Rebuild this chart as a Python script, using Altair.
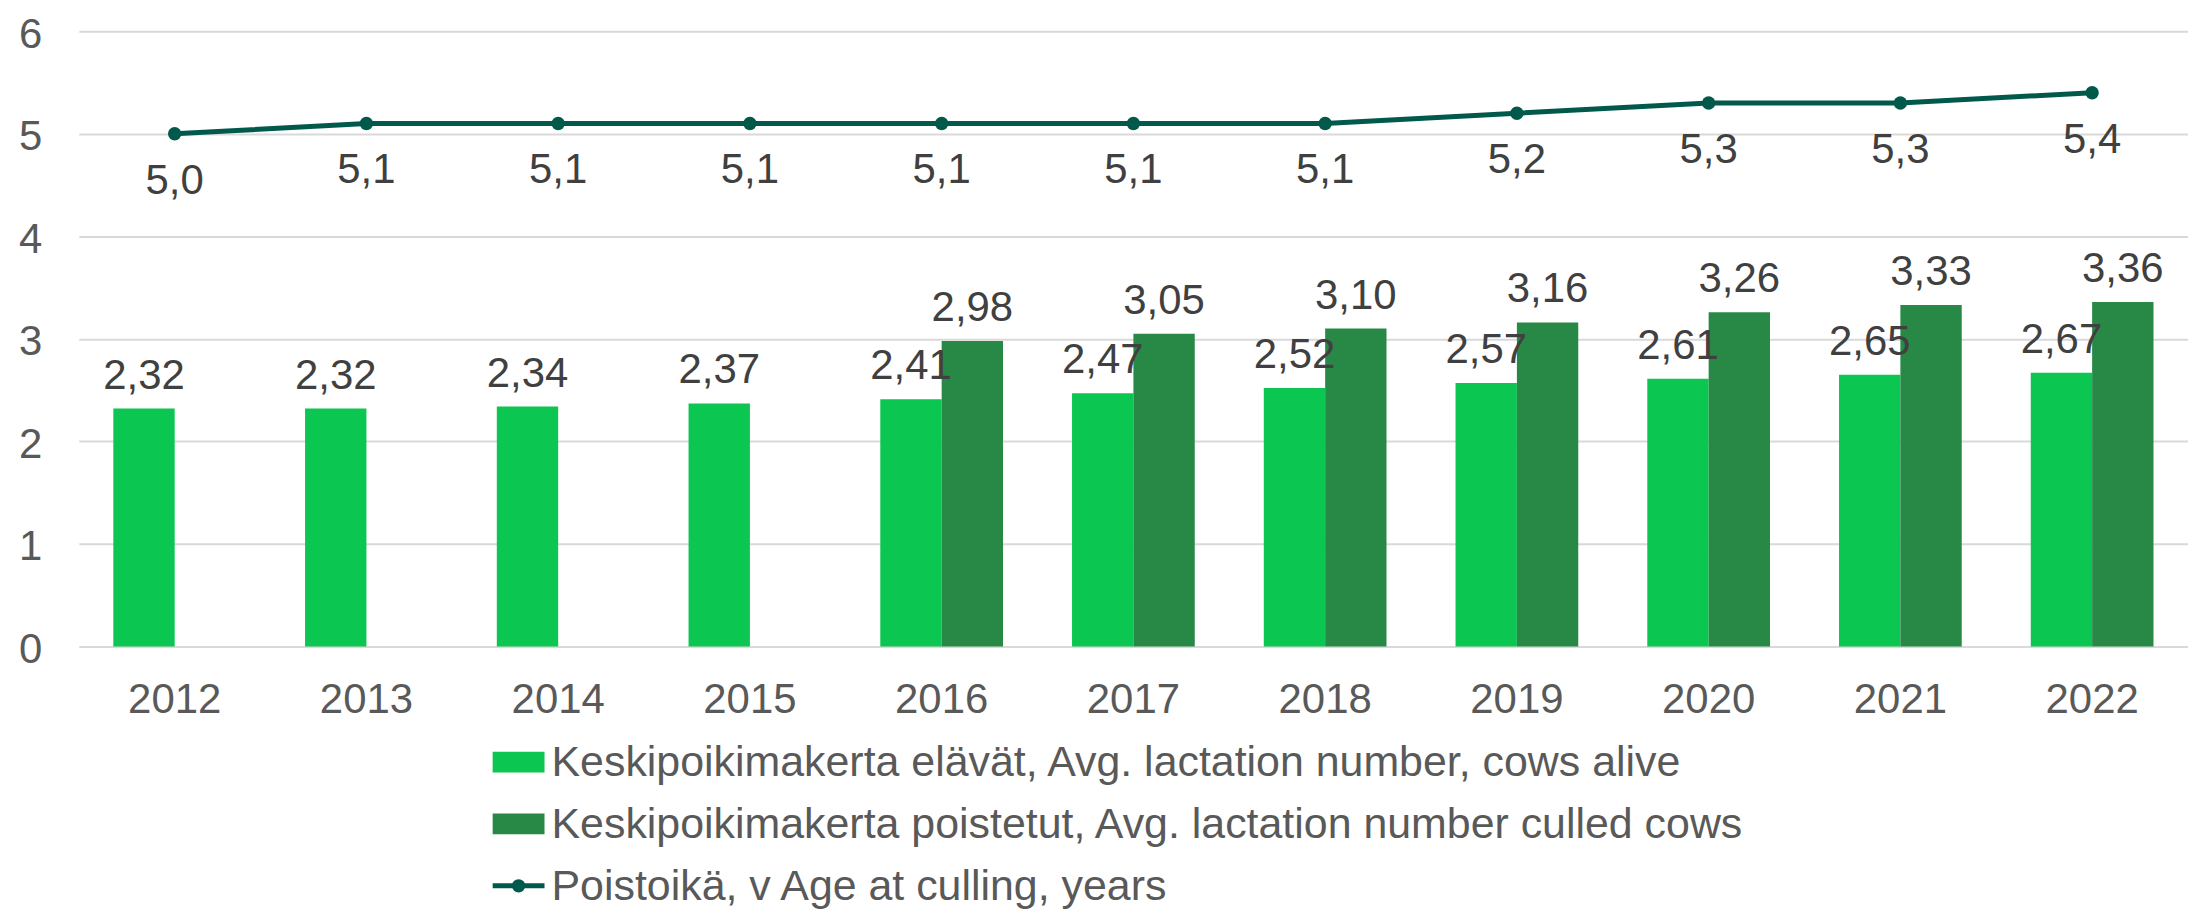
import altair as alt
import pandas as pd

# ---- data ----
years = ["2012", "2013", "2014", "2015", "2016", "2017", "2018", "2019", "2020", "2021", "2022"]
alive = [2.32, 2.32, 2.34, 2.37, 2.41, 2.47, 2.52, 2.57, 2.61, 2.65, 2.67]
culled = [None, None, None, None, 2.98, 3.05, 3.10, 3.16, 3.26, 3.33, 3.36]
age = [5.0, 5.1, 5.1, 5.1, 5.1, 5.1, 5.1, 5.2, 5.3, 5.3, 5.4]
series_names = [
    "Keskipoikimakerta elävät, Avg. lactation number, cows alive",
    "Keskipoikimakerta poistetut, Avg. lactation number culled cows",
    "Poistoikä, v Age at culling, years",
]
y_ticks = [0, 1, 2, 3, 4, 5, 6]

# ---- styles ----
bar_colors = ["#0BC651", "#288946"]
line_color = "#00594B"
axis_text = "#595959"
label_text = "#404040"
grid_color = "#D9D9D9"
FS = 42
LFS = 43

bars_df = pd.DataFrame({
    "year": years * 2,
    "series": [series_names[0]] * len(years) + [series_names[1]] * len(years),
    "value": alive + culled,
}).dropna()
line_df = pd.DataFrame({"year": years, "value": age})

x_enc = alt.X(
    "year:N", sort=years,
    scale=alt.Scale(paddingInner=0.36, paddingOuter=0.18),
    axis=alt.Axis(title=None, labelFontSize=FS, labelColor=axis_text, labelPadding=53,
                  labelBaseline="middle", domain=False, ticks=False, grid=False, labelAngle=0),
)
y_enc = alt.Y(
    "value:Q", scale=alt.Scale(domain=[0, 6], nice=False, zero=True),
    axis=alt.Axis(title=None, values=y_ticks, labelFontSize=FS, labelColor=axis_text,
                  labelPadding=37, labelBaseline="alphabetic", labelOffset=16,
                  ticks=False, tickSize=0, domain=False, grid=True,
                  gridColor=grid_color, gridWidth=2),
)
xoff = alt.XOffset("series:N", sort=series_names[:2],
                   scale=alt.Scale(domain=series_names[:2], paddingInner=0, paddingOuter=0))
color_enc = alt.Color("series:N", scale=alt.Scale(domain=series_names[:2], range=bar_colors), legend=None)

base_bars = alt.Chart(bars_df)
bars = base_bars.mark_bar(opacity=1).encode(x=x_enc, xOffset=xoff, y=y_enc, color=color_enc)
bar_labels = base_bars.mark_text(dy=-20, baseline="alphabetic", fontSize=FS, color=label_text).transform_calculate(
    label="replace(format(datum.value, '.2f'), '.', ',')"
).encode(x=x_enc, xOffset=xoff, y=y_enc, text="label:N")

base_line = alt.Chart(line_df)
line = base_line.mark_line(color=line_color, strokeWidth=5).encode(x=x_enc, y=y_enc)
points = base_line.mark_point(filled=True, size=180, opacity=1, color=line_color).encode(x=x_enc, y=y_enc)
line_labels = base_line.mark_text(dy=60, baseline="alphabetic", fontSize=FS, color=label_text).transform_calculate(
    label="replace(format(datum.value, '.1f'), '.', ',')"
).encode(x=x_enc, y=y_enc, text="label:N")

# ---- legend (drawn below the plot) ----
row_y = [733, 795, 857]
sym_x = 441
legend_layers = []
for i, name in enumerate(series_names):
    ldf = pd.DataFrame({"series": [name]})
    if i < 2:
        legend_layers.append(
            alt.Chart(ldf).mark_point(shape="M-1,-0.4H1V0.4H-1Z", filled=True, size=2704, opacity=1,
                                      strokeWidth=0, color=bar_colors[i])
            .encode(x=alt.value(sym_x), y=alt.value(row_y[i]))
        )
    else:
        legend_layers.append(
            alt.Chart(ldf).mark_rule(color=line_color, strokeWidth=5)
            .encode(x=alt.value(sym_x - 26), x2=alt.value(sym_x + 26), y=alt.value(row_y[i]))
        )
        legend_layers.append(
            alt.Chart(ldf).mark_point(filled=True, size=180, opacity=1, color=line_color)
            .encode(x=alt.value(sym_x), y=alt.value(row_y[i]))
        )
    legend_layers.append(
        alt.Chart(ldf).mark_text(align="left", baseline="middle", fontSize=LFS, color=axis_text)
        .encode(x=alt.value(474), y=alt.value(row_y[i] + 1), text="series:N")
    )

chart = alt.layer(bars, bar_labels, line, points, line_labels, *legend_layers).properties(
    width=2115,
    height=617,
    padding={"left": 71, "top": 22, "right": 0, "bottom": 263},
    autosize=alt.AutoSizeParams(type="none"),
).configure(font="Liberation Sans").configure_view(strokeWidth=0)

chart.save("out.html", embed_options={"renderer": "svg", "actions": False})
